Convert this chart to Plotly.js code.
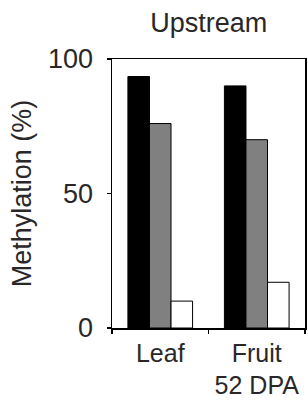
<!DOCTYPE html>
<html>
<head>
<meta charset="utf-8">
<script src="https://cdn.plot.ly/plotly-3.0.1.min.js"></script>
<style>html,body{margin:0;padding:0;background:#fff;}#chart{width:308px;height:401px;}</style>
</head>
<body>
<div id="chart"></div>
<script>
const categories = ["Leaf", "Fruit<br>52 DPA"];
const seriesNames = ["CG", "CHG", "CHH"];
const cgValues = [93.5, 90];
const chgValues = [76, 70];
const chhValues = [10, 17];
const yTickVals = [0, 50, 100];
const yTickText = ["0", "50", "100"];

const fills = ["#000000", "#808080", "#ffffff"];
const valueSets = [cgValues, chgValues, chhValues];
const traces = valueSets.map((vals, i) => ({
  type: "bar",
  name: seriesNames[i],
  x: categories,
  y: vals,
  marker: {color: fills[i], line: {color: "#000000", width: 1}},
  showlegend: false,
  hoverinfo: "skip"
}));

const textFont = {family: "Liberation Sans, Arial, sans-serif", size: 27, color: "#2a2728"};
const xFont = {family: "Liberation Sans, Arial, sans-serif", size: 25, color: "#2a2728"};

const layout = {
  width: 308,
  height: 401,
  margin: {l: 112, r: 3, t: 59, b: 73, pad: 0},
  paper_bgcolor: "#ffffff",
  plot_bgcolor: "#ffffff",
  font: textFont,
  title: {text: "Upstream", font: {family: textFont.family, size: 27, color: "#2a2728"}, x: 0.678, xanchor: "center", y: 0.945, yanchor: "middle"},
  barmode: "group",
  bargap: 0.33,
  bargroupgap: 0,
  xaxis: {
    type: "category",
    range: [-0.5, 1.5],
    showline: true, linecolor: "#000000", linewidth: 1.5, mirror: true,
    ticks: "outside", ticklen: 4, tickwidth: 1.2, tickcolor: "#000000",
    tickson: "boundaries",
    tickangle: 0,
    ticklabelstandoff: 2,
    showgrid: false, zeroline: false,
    tickfont: xFont,
    fixedrange: true
  },
  yaxis: {
    range: [0, 100],
    tickvals: yTickVals, ticktext: yTickText,
    showline: true, linecolor: "#000000", linewidth: 1.5, mirror: true,
    ticks: "outside", ticklen: 4, tickwidth: 1.2, tickcolor: "#000000",
    ticklabelstandoff: 8,
    showgrid: false, zeroline: false,
    tickfont: textFont,
    title: {text: "Methylation (%)", font: textFont, standoff: 8},
    fixedrange: true
  }
};

Plotly.newPlot("chart", traces, layout, {displayModeBar: false, staticPlot: true});
</script>
</body>
</html>
